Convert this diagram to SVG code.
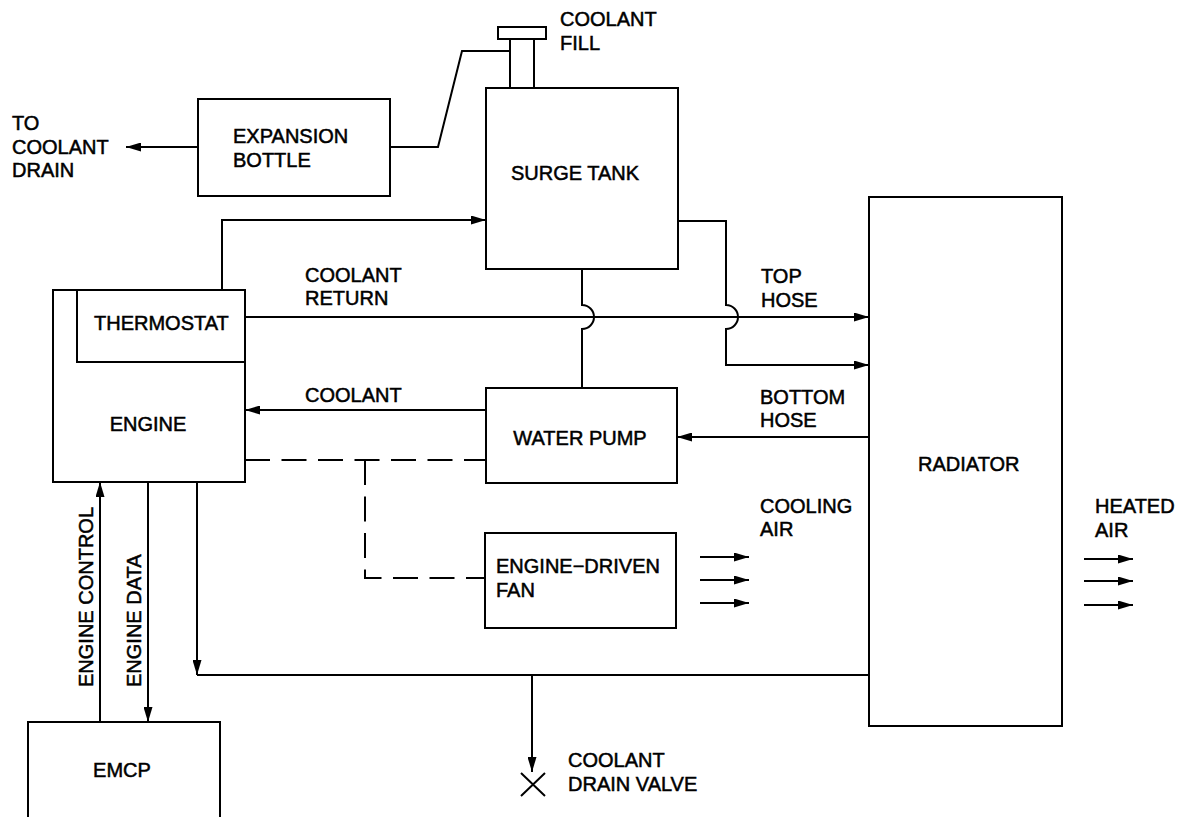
<svg xmlns="http://www.w3.org/2000/svg" width="1177" height="817" viewBox="0 0 1177 817">
<style>
.box{fill:none;stroke:#000;stroke-width:2}
.ln{fill:none;stroke:#000;stroke-width:2}
.dash{fill:none;stroke:#000;stroke-width:2;stroke-dasharray:25 11.5}
text{font-family:"Liberation Sans",Arial,sans-serif;font-size:20px;fill:#000;stroke:#000;stroke-width:0.5}
.c{text-anchor:middle}
</style>
<defs>
<marker id="ah" markerUnits="userSpaceOnUse" markerWidth="15" markerHeight="9" refX="15" refY="4.5" orient="auto">
<path d="M0,0 L15,4.5 L0,9 z" fill="#000"/>
</marker>
</defs>
<rect width="1177" height="817" fill="#fff"/>

<g id="expansion-bottle">
<rect class="box" x="198" y="99" width="192" height="97"/>
<text x="233" y="143">EXPANSION</text>
<text x="233" y="167">BOTTLE</text>
</g>

<g id="surge-tank">
<rect class="box" x="486" y="88" width="192" height="181"/>
<rect class="box" x="498" y="27" width="48" height="12"/>
<path class="ln" d="M510,39 V88 M534,39 V88"/>
<text class="c" x="575" y="180">SURGE  TANK</text>
</g>

<g id="engine">
<rect class="box" x="53" y="290" width="192" height="192"/>
<text class="c" x="148" y="431">ENGINE</text>
</g>

<g id="thermostat">
<path class="ln" d="M77,290 V362 H245"/>
<text x="94" y="330">THERMOSTAT</text>
</g>

<g id="water-pump">
<rect class="box" x="486" y="388" width="191" height="95"/>
<text class="c" x="580" y="445">WATER  PUMP</text>
</g>

<g id="fan">
<rect class="box" x="485" y="533" width="191" height="95"/>
<text x="496" y="573">ENGINE−DRIVEN</text>
<text x="496" y="597">FAN</text>
</g>

<g id="radiator">
<rect class="box" x="869" y="197" width="193" height="529"/>
<text x="918" y="471">RADIATOR</text>
</g>

<g id="emcp">
<rect class="box" x="28" y="722" width="192" height="110"/>
<text class="c" x="122" y="777">EMCP</text>
</g>

<g id="connectors">
<path class="ln" d="M510,51 H462 L438,147 H390"/>
<path class="ln" d="M198,147 H126" marker-end="url(#ah)"/>
<path class="ln" d="M222,290 V220 H486" marker-end="url(#ah)"/>
<path class="ln" d="M245,317 H869" marker-end="url(#ah)"/>
<path class="ln" d="M582,269 V305 A12,12 0 0 1 582,329 V388"/>
<path class="ln" d="M678,221 H726 V305 A12,12 0 0 1 726,329 V365 H869" marker-end="url(#ah)"/>
<path class="ln" d="M486,410 H245" marker-end="url(#ah)"/>
<path class="ln" d="M869,437 H677" marker-end="url(#ah)"/>
<path class="dash" d="M245,460 H486"/>
<path class="dash" d="M365,460 V578 H485"/>
<path class="ln" d="M197,482 V675" marker-end="url(#ah)"/>
<path class="ln" d="M197,675 H869"/>
<path class="ln" d="M532,675 V772" marker-end="url(#ah)"/>
<path class="ln" d="M521,773 L545,796 M545,773 L521,796"/>
<path class="ln" d="M100,722 V482" marker-end="url(#ah)"/>
<path class="ln" d="M148,482 V722" marker-end="url(#ah)"/>
<path class="ln" d="M700,557 H749" marker-end="url(#ah)"/>
<path class="ln" d="M700,580 H749" marker-end="url(#ah)"/>
<path class="ln" d="M700,603 H749" marker-end="url(#ah)"/>
<path class="ln" d="M1084,559 H1133" marker-end="url(#ah)"/>
<path class="ln" d="M1084,581 H1133" marker-end="url(#ah)"/>
<path class="ln" d="M1084,605 H1133" marker-end="url(#ah)"/>
</g>

<g id="labels">
<text x="560" y="26">COOLANT</text>
<text x="560" y="50">FILL</text>
<text x="12" y="130">TO</text>
<text x="12" y="154">COOLANT</text>
<text x="12" y="177">DRAIN</text>
<text x="305" y="282">COOLANT</text>
<text x="305" y="305">RETURN</text>
<text x="761" y="283">TOP</text>
<text x="761" y="307">HOSE</text>
<text x="305" y="402">COOLANT</text>
<text x="760" y="404">BOTTOM</text>
<text x="760" y="427">HOSE</text>
<text x="760" y="513">COOLING</text>
<text x="760" y="536">AIR</text>
<text x="1095" y="513">HEATED</text>
<text x="1095" y="537">AIR</text>
<text x="568" y="767">COOLANT</text>
<text x="568" y="791">DRAIN  VALVE</text>
<text transform="translate(93,687) rotate(-90)">ENGINE  CONTROL</text>
<text transform="translate(141,687) rotate(-90)">ENGINE  DATA</text>
</g>
</svg>
